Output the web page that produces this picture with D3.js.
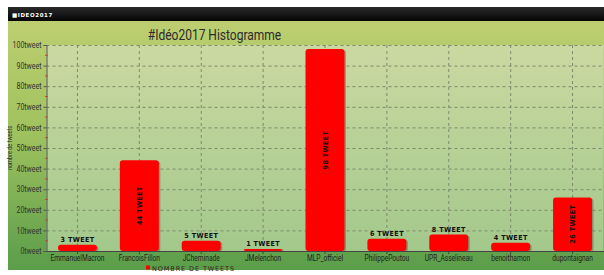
<!DOCTYPE html>
<html>
<head>
<meta charset="utf-8">
<script src="https://cdn.jsdelivr.net/npm/d3@7"></script>
<style>
  body { margin: 0; background: #fff; }
  svg { display: block; }
  .narrow { font-family: "Roboto", "DejaVu Sans", sans-serif; }
</style>
</head>
<body>
<svg id="chart" width="604" height="275"></svg>
<script>
(function(){
    var comptes = ['EmmanuelMacron','FrancoisFillon','JCheminade','JMelenchon','MLP_officiel',
                   'PhilippePoutou','UPR_Asselineau','benoithamon','dupontaignan'];
    var tweets = [3, 44, 5, 1, 98, 6, 8, 4, 26];
    var yTicks = [0,10,20,30,40,50,60,70,80,90,100];
    var minorTicks = [5,15,25,35,45,55,65,75,85,95];

    var W = 604, H = 275;
    var m = {left: 46.5, right: 0.5, top: 45, bottom: 24};

    // squeeze text horizontally (the original uses a condensed font)
    function condense(sel, k){
        sel.each(function(){
            var len = this.getComputedTextLength();
            d3.select(this).attr('textLength', len * k).attr('lengthAdjust','spacingAndGlyphs');
        });
    }

    var svg = d3.select('#chart');
    var defs = svg.append('defs');

    var g1 = defs.append('linearGradient').attr('id','bgGrad').attr('x1',0).attr('y1',0).attr('x2',0).attr('y2',1);
    g1.append('stop').attr('offset','0%').attr('stop-color','#bdce71');
    g1.append('stop').attr('offset','45%').attr('stop-color','#9fc25e');
    g1.append('stop').attr('offset','100%').attr('stop-color','#5a9d4a');

    var g2 = defs.append('linearGradient').attr('id','plotGrad').attr('x1',0).attr('y1',0).attr('x2',0).attr('y2',1);
    g2.append('stop').attr('offset','0%').attr('stop-color','#cbd9a1');
    g2.append('stop').attr('offset','100%').attr('stop-color','#a3c88c');

    var g3 = defs.append('linearGradient').attr('id','headGrad').attr('x1',0).attr('y1',0).attr('x2',0).attr('y2',1);
    g3.append('stop').attr('offset','0%').attr('stop-color','#2a2a2a');
    g3.append('stop').attr('offset','100%').attr('stop-color','#050505');

    // cadre
    svg.append('rect').attr('x',8).attr('y',21).attr('width',W-8).attr('height',249).attr('fill','url(#bgGrad)');
    svg.append('rect').attr('x',8).attr('y',7).attr('width',W-8).attr('height',14).attr('fill','url(#headGrad)');
    svg.append('text').attr('x',12).attr('y',16.5)
        .attr('fill','#fff').style('font-family','DejaVu Sans, sans-serif')
        .style('font-size','5.5px').style('font-weight','bold').style('letter-spacing','0.6px')
        .text('\u25A0IDEO2017');

    var x = d3.scaleBand().domain(comptes).range([m.left, W - m.right]).paddingInner(0.37).paddingOuter(0.185);
    var y = d3.scaleLinear().domain([0,100]).range([H - m.bottom, m.top]);

    svg.append('rect')
        .attr('x', m.left).attr('y', m.top)
        .attr('width', W - m.right - m.left).attr('height', y(0) - m.top)
        .attr('fill','url(#plotGrad)');

    // titre
    svg.append('text').attr('class','narrow')
        .attr('x',214.5).attr('y',40).attr('text-anchor','middle')
        .attr('fill','#2b2b2b').style('font-size','15px')
        .text('#Idéo2017 Histogramme')
        .call(condense, 0.8);

    // grille
    svg.append('g').selectAll('line').data(yTicks.slice(1)).join('line')
        .attr('x1', m.left).attr('x2', W - m.right)
        .attr('y1', function(d){ return y(d) + 0.5; }).attr('y2', function(d){ return y(d) + 0.5; })
        .attr('stroke','#7d8a6c').attr('stroke-dasharray','3,3').attr('stroke-width',1);
    svg.append('g').selectAll('line').data(comptes).join('line')
        .attr('x1', function(d){ return x(d) + x.bandwidth()/2; })
        .attr('x2', function(d){ return x(d) + x.bandwidth()/2; })
        .attr('y1', m.top).attr('y2', y(0))
        .attr('stroke','#7d8a6c').attr('stroke-dasharray','3,3').attr('stroke-width',1);

    // barres
    var bars = svg.append('g');
    bars.selectAll('rect.shadow').data(tweets).join('rect').attr('class','shadow')
        .attr('x', function(d,i){ return x(comptes[i]) + 1.5; })
        .attr('y', function(d){ return y(d) + 1; })
        .attr('width', x.bandwidth())
        .attr('height', function(d){ return Math.max(2, y(0) - y(d)); })
        .attr('rx', 3).attr('fill','rgba(60,60,60,0.35)');
    bars.selectAll('rect.bar').data(tweets).join('rect').attr('class','bar')
        .attr('x', function(d,i){ return x(comptes[i]); })
        .attr('y', function(d){ return Math.min(y(d), y(0) - 2); })
        .attr('width', x.bandwidth())
        .attr('height', function(d){ return Math.max(2, y(0) - y(d)); })
        .attr('rx', 3).attr('fill','#ff0000');

    // étiquettes
    var lab = svg.append('g').style('font-family','DejaVu Sans, sans-serif')
        .style('font-size','7px').style('font-weight','bold').style('letter-spacing','0.4px').attr('fill','#111');
    lab.selectAll('text').data(tweets).join('text')
        .attr('text-anchor','middle')
        .attr('transform', function(d,i){
            var cx = x(comptes[i]) + x.bandwidth()/2;
            if (d > 20) return 'translate(' + (cx + 2.5) + ',' + ((y(d) + y(0))/2) + ') rotate(-90)';
            return 'translate(' + cx + ',' + (y(d) - 3) + ')';
        })
        .text(function(d){ return d + ' TWEET'; })
        .call(condense, 0.92);

    // axes
    var yAxis = d3.axisLeft(y).tickValues(yTicks).tickSize(3).tickFormat(function(d){ return d + 'tweet'; });
    var ga = svg.append('g').attr('transform','translate(' + m.left + ',0)').call(yAxis);
    ga.select('.domain').attr('stroke','#555');
    ga.selectAll('.tick line').attr('stroke','#555');
    ga.selectAll('text').attr('class','narrow').style('font-size','8.5px').attr('fill','#333').attr('dx', 1)
        .call(condense, 0.82);
    svg.append('g').selectAll('line').data(minorTicks).join('line')
        .attr('x1', m.left - 1.5).attr('x2', m.left + 1.5)
        .attr('y1', function(d){ return y(d); }).attr('y2', function(d){ return y(d); })
        .attr('stroke','#d6402c').attr('stroke-width',1);

    var xAxis = d3.axisBottom(x).tickSize(3).tickSizeOuter(0);
    var gx = svg.append('g').attr('transform','translate(0,' + y(0) + ')').call(xAxis);
    gx.select('.domain').attr('stroke','#444');
    gx.selectAll('.tick line').attr('stroke','#444');
    gx.selectAll('text').attr('class','narrow').style('font-size','8.5px').attr('fill','#222').attr('dy','0.5em')
        .call(condense, 0.78);

    // titre axe Y
    svg.append('text').attr('class','narrow')
        .attr('transform','translate(12,' + y(50) + ') rotate(-90)')
        .attr('text-anchor','middle').attr('fill','#333').style('font-size','6.5px')
        .text('nombre de tweets')
        .call(condense, 0.85);

    // légende
    svg.append('rect').attr('x',146).attr('y',265.5).attr('width',4).attr('height',4).attr('fill','#ff0000');
    svg.append('text').attr('x',152).attr('y',270.5)
        .style('font-family','DejaVu Sans, sans-serif').style('font-size','6.5px')
        .style('letter-spacing','0.9px').attr('fill','#3a1a1a')
        .text('NOMBRE DE TWEETS');
})();
</script>
</body>
</html>
